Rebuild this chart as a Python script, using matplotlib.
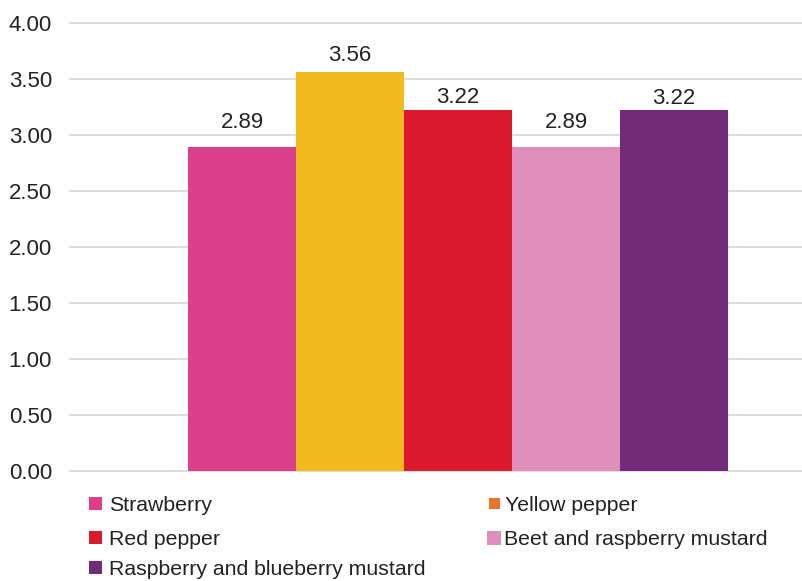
from matplotlib import pyplot
from matplotlib import patches

products = ['Strawberry', 'Yellow pepper', 'Red pepper',
            'Beet and raspberry mustard', 'Raspberry and blueberry mustard']
scores = [2.89, 3.56, 3.22, 2.89, 3.22]
bar_colors = ['#DC3F8B', '#F2BA1D', '#DC1A2E', '#DE90BB', '#722B79']
key_colors = ['#DC3F8B', '#E8732A', '#DC1A2E', '#DE90BB', '#722B79']
y_ticks = [0.0, 0.5, 1.0, 1.5, 2.0, 2.5, 3.0, 3.5, 4.0]

W, H = 802, 581
pyplot.rcParams['font.family'] = ['Liberation Sans', 'DejaVu Sans']

fig = pyplot.figure(figsize=(W / 100, H / 100), dpi=100)
ax = fig.add_axes([70 / W, (H - 471) / H, (802 - 70) / W, (471 - 23) / H])

for y in y_ticks:
    ax.axhline(y, color='#DDDDDD', linewidth=1.5, zorder=1, clip_on=False)

# value labels sit at slightly different heights above each bar
label_gap = [14, 8.3, 5.4, 14, 4.7]
for i, (v, c) in enumerate(zip(scores, bar_colors)):
    ax.bar(i, v, 1.0, color=c, linewidth=0, zorder=2)
    ax.annotate('%.2f' % v, (i, v), xytext=(0, label_gap[i]), textcoords='offset points',
                ha='center', va='baseline', fontsize=16, color='#222222')

ax.set_xlim(-1.593, 5.185)
ax.set_ylim(0, 4)
ax.set_yticks(y_ticks)
ax.set_yticklabels(['%.2f' % t for t in y_ticks], fontsize=16, color='#222222')
ax.tick_params(axis='y', length=0, pad=13)
ax.set_xticks([])
for s in ax.spines.values():
    s.set_visible(False)

# legend drawn by hand: the last entry runs past the second column
# (left edge of square, baseline of text)
key_pos = [(89, 511), (489, 511), (89, 545), (487, 545), (89, 575)]
key_size = [13, 11, 13, 14, 13]
text_x = [109, 505, 109, 504, 109]
for (x, y), tx, name, c, s in zip(key_pos, text_x, products, key_colors, key_size):
    cy = y - 7.5
    fig.add_artist(patches.Rectangle((x / W, (H - cy - s / 2) / H), s / W, s / H,
                                     transform=fig.transFigure, facecolor=c, linewidth=0))
    fig.text(tx / W, (H - y) / H, name, fontsize=15.3, color='#222222',
             ha='left', va='baseline')

pyplot.savefig('out.png', dpi=100)
